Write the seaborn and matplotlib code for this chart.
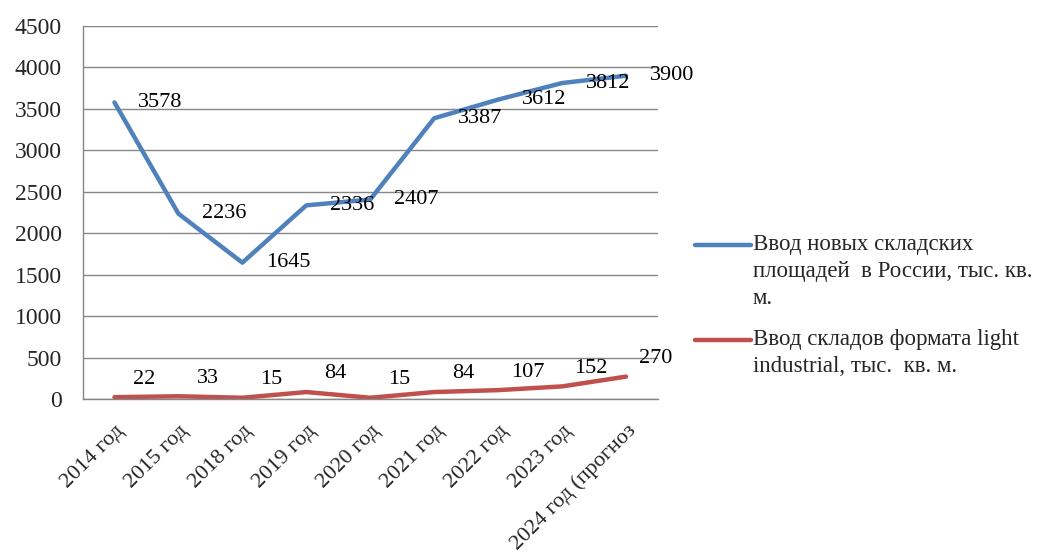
import numpy as np
import pandas as pd
import seaborn as sns
import matplotlib
matplotlib.use("Agg")
import matplotlib.pyplot as plt
from matplotlib.lines import Line2D

# Data
categories = ["2014 год", "2015 год", "2018 год", "2019 год", "2020 год",
              "2021 год", "2022 год", "2023 год", "2024 год (прогноз"]
total_values = [3578, 2236, 1645, 2336, 2407, 3387, 3612, 3812, 3900]
light_values = [22, 33, 15, 84, 15, 84, 107, 152, 270]
series_names = ["Ввод новых складских\nплощадей  в России, тыс. кв.\nм.",
                "Ввод складов формата light\nindustrial, тыс.  кв. м."]
colors = ["#4F81BD", "#C0504D"]

df = pd.DataFrame({
    "pos": list(range(len(categories))) * 2,
    "value": total_values + light_values,
    "series": [series_names[0]] * len(categories) + [series_names[1]] * len(categories),
})

sns.set_style("white")
plt.rcParams['font.family'] = ['Liberation Serif', 'DejaVu Serif']

W, H = 1045, 558
fig = plt.figure(figsize=(W / 100, H / 100), dpi=100)
ax = fig.add_axes([82.5 / W, 1 - 399 / H, (658 - 82.5) / W, (399 - 26) / H])

sns.lineplot(data=df, x="pos", y="value", hue="series", palette=colors,
             linewidth=3.2, ax=ax, legend=False)

# data labels
for i, v in enumerate(total_values):
    ax.annotate(str(v), (i, v), xytext=(17, 0), textcoords="offset points",
                ha="left", va="center", fontsize=16, color="#000000")
for i, v in enumerate(light_values):
    ax.annotate(str(v), (i, v), xytext=(21, 13), textcoords="offset points",
                ha="center", va="center", fontsize=16, color="#000000")

ax.set_xlim(-0.5, len(categories) - 0.5)
ax.set_ylim(0, 4500)
ax.set_yticks(np.arange(0, 4501, 500))
ax.set_xticks(range(len(categories)))
ax.set_xticklabels(categories, rotation=45, ha="right", rotation_mode="anchor",
                   fontsize=16)
ax.set_xticks(np.arange(-0.5, len(categories), 1), minor=True)
ax.tick_params(axis="x", which="major", length=0, pad=16)
ax.tick_params(axis="x", which="minor", length=6, width=1, color="#868686", direction="out")
ax.tick_params(axis="y", length=6, width=1, color="#868686", direction="out",
               labelsize=17, pad=9)
ax.yaxis.grid(True, color="#868686", linewidth=1)
ax.xaxis.grid(False)
ax.set_xlabel("")
ax.set_ylabel("")
for s in ["top", "right"]:
    ax.spines[s].set_visible(False)
for s in ["left", "bottom"]:
    ax.spines[s].set_color("#868686")
    ax.spines[s].set_linewidth(1)

# legend: handle aligned with the first text line, as in the original
legend_tops = [234, 329]
for name, color, top in zip(series_names, colors, legend_tops):
    yc = 1 - (top + 11) / H
    fig.add_artist(Line2D([695 / W, 751 / W], [yc, yc], transform=fig.transFigure,
                          color=color, linewidth=3.2, solid_capstyle="round"))
    fig.text(753 / W, 1 - top / H, name, ha="left", va="top", fontsize=16.5,
             linespacing=1.38)

fig.savefig("out.png", dpi=100)
